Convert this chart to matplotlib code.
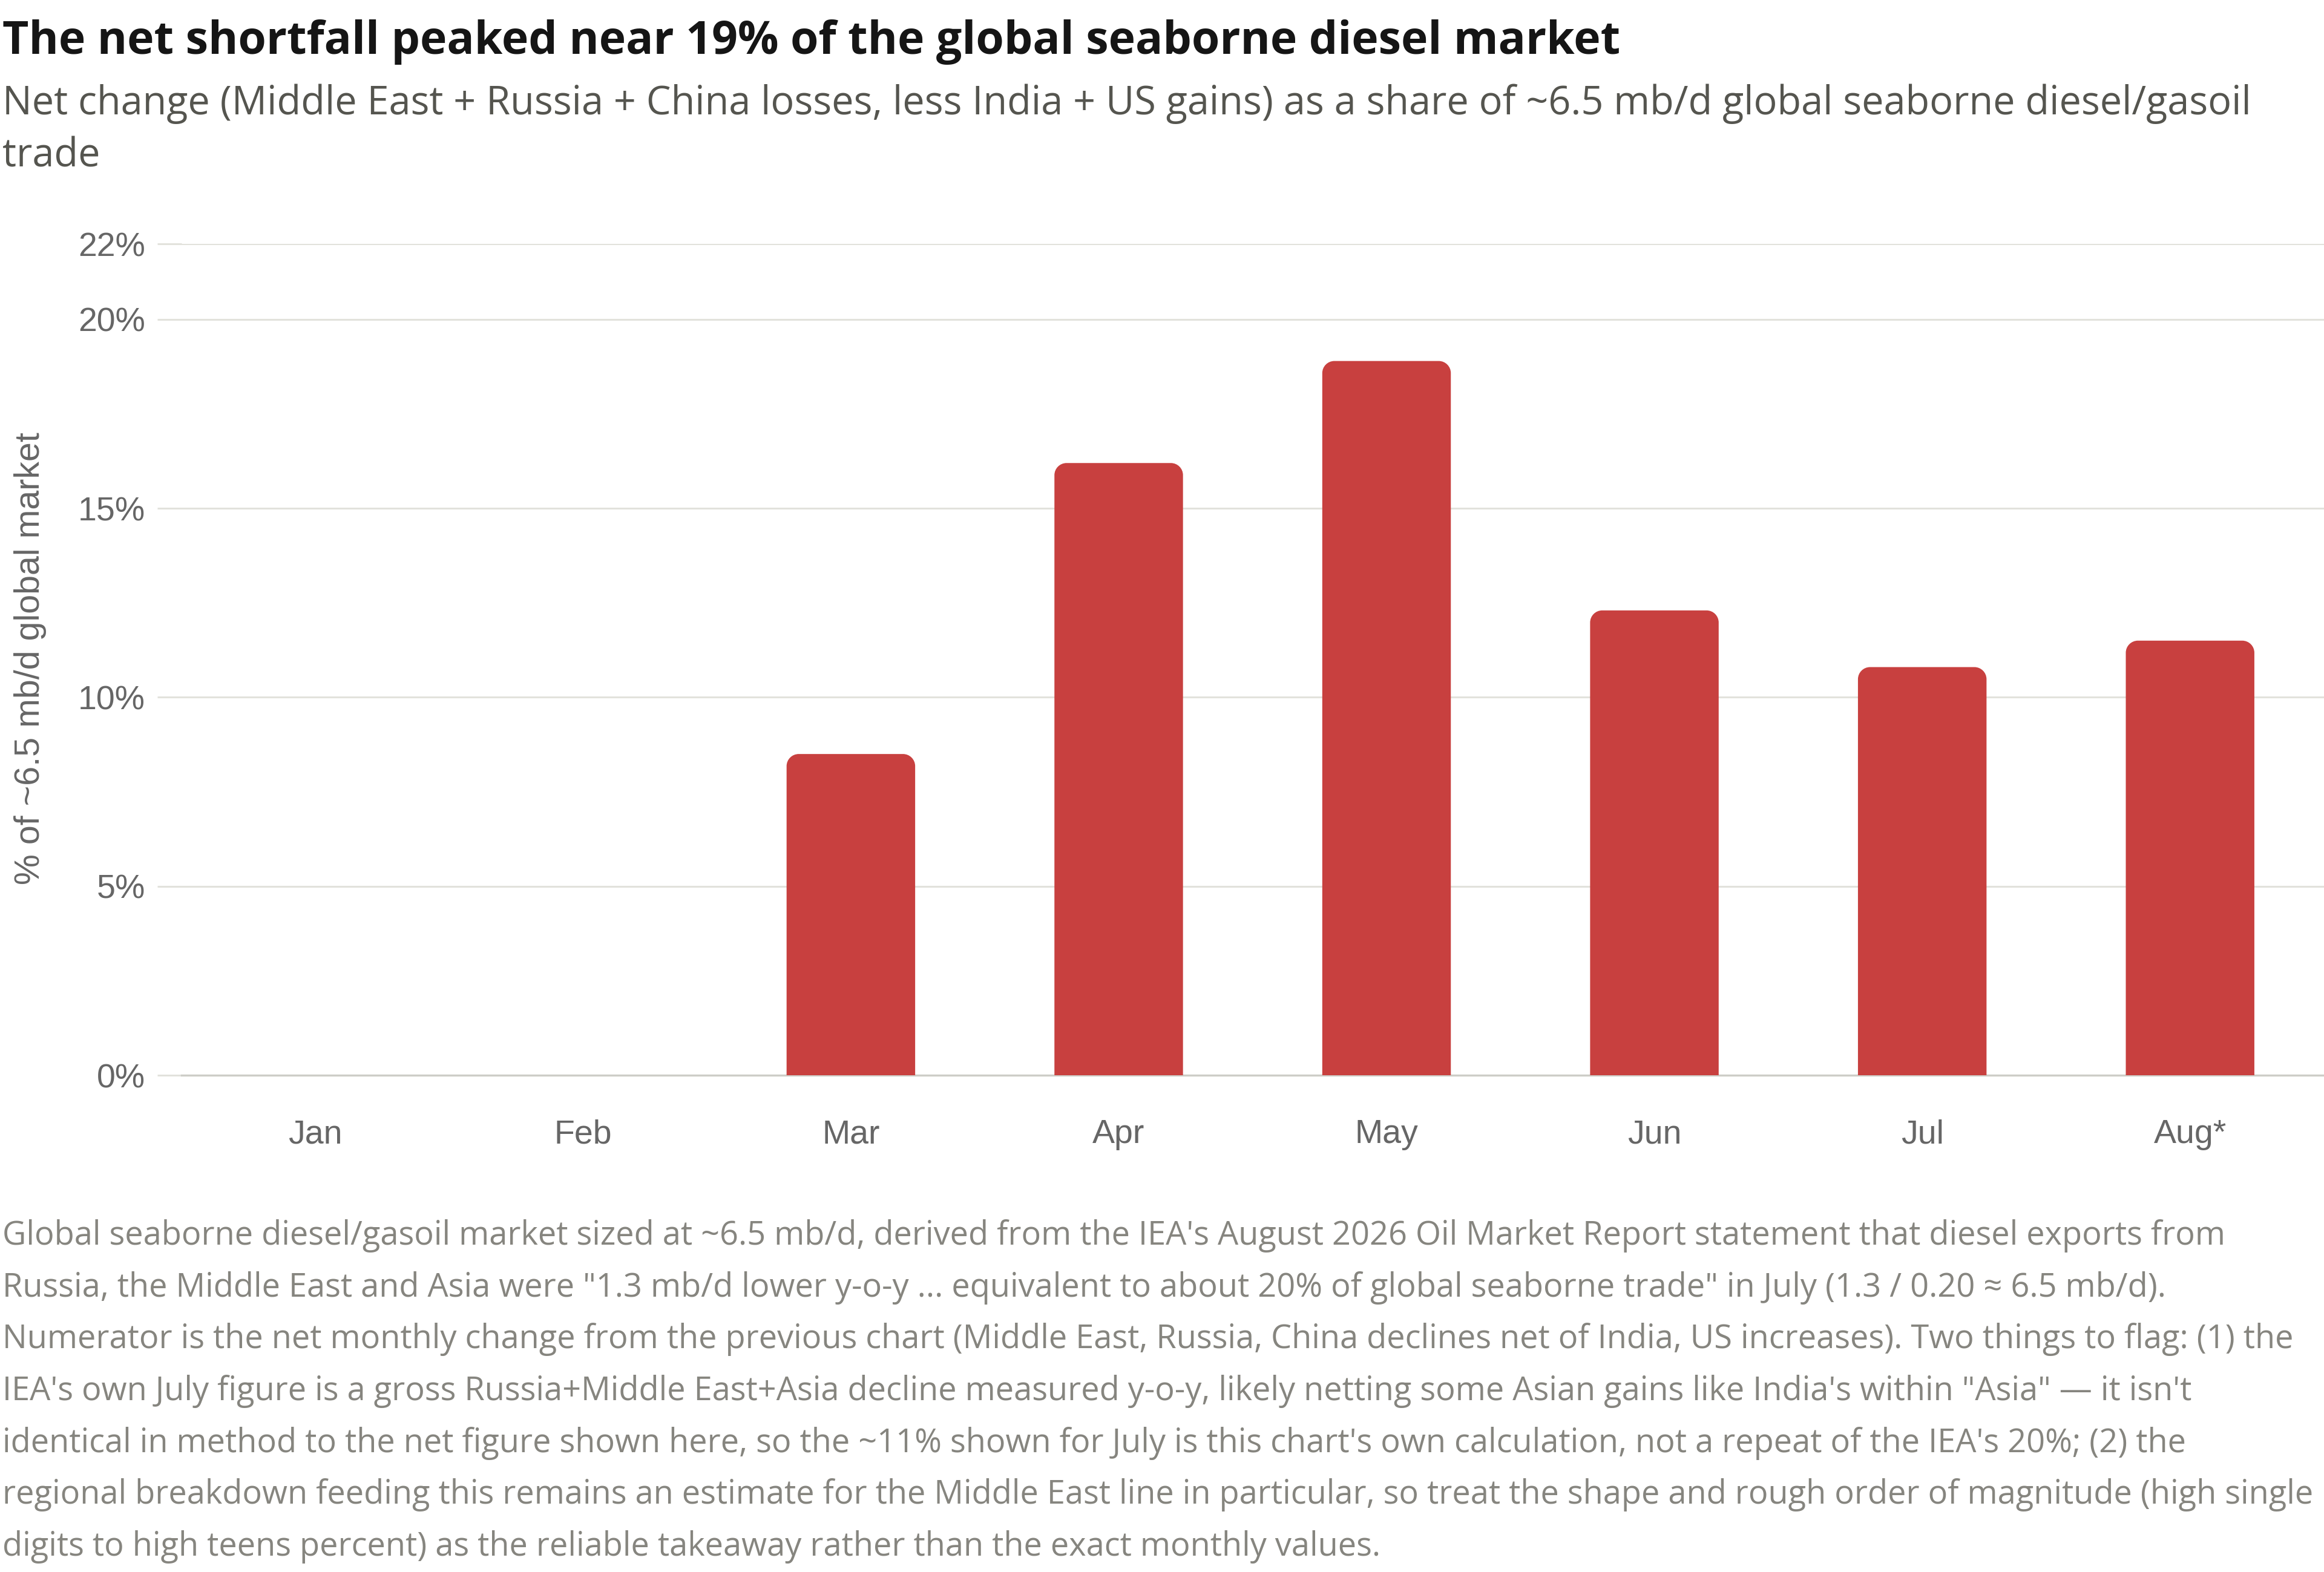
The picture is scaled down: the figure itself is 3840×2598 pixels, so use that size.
import matplotlib
matplotlib.use("Agg")
import matplotlib.pyplot as plt
from matplotlib.path import Path
from matplotlib.patches import PathPatch
from matplotlib.ticker import FixedLocator, FuncFormatter

# ---------------- data ----------------
months = ["Jan", "Feb", "Mar", "Apr", "May", "Jun", "Jul", "Aug*"]
net_share_pct = [0, 0, 8.5, 16.2, 18.9, 12.3, 10.8, 11.5]
y_ticks = [0, 5, 10, 15, 20, 22]

title = "The net shortfall peaked near 19% of the global seaborne diesel market"
subtitle_lines = [
    "Net change (Middle East + Russia + China losses, less India + US gains) as a share of ~6.5 mb/d global seaborne diesel/gasoil",
    "trade",
]
y_label = "% of ~6.5 mb/d global market"
footnote_lines = [
    "Global seaborne diesel/gasoil market sized at ~6.5 mb/d, derived from the IEA's August 2026 Oil Market Report statement that diesel exports from",
    "Russia, the Middle East and Asia were \"1.3 mb/d lower y-o-y ... equivalent to about 20% of global seaborne trade\" in July (1.3 / 0.20 \u2248 6.5 mb/d).",
    "Numerator is the net monthly change from the previous chart (Middle East, Russia, China declines net of India, US increases). Two things to flag: (1) the",
    "IEA's own July figure is a gross Russia+Middle East+Asia decline measured y-o-y, likely netting some Asian gains like India's within \"Asia\" \u2014 it isn't",
    "identical in method to the net figure shown here, so the ~11% shown for July is this chart's own calculation, not a repeat of the IEA's 20%; (2) the",
    "regional breakdown feeding this remains an estimate for the Middle East line in particular, so treat the shape and rough order of magnitude (high single",
    "digits to high teens percent) as the reliable takeaway rather than the exact monthly values.",
]

# ---------------- style ----------------
W, H, DPI = 3840, 2598, 100
BAR_COLOR = "#C8403F"
GRID_COLOR = "#E2E2DC"
ZERO_COLOR = "#CDCDC7"
TICK_TEXT = "#666666"
TEXT_FONT = ["Open Sans", "DejaVu Sans"]
AXIS_FONT = ["Liberation Sans", "DejaVu Sans"]

fig = plt.figure(figsize=(W / DPI, H / DPI), dpi=DPI)
fig.patch.set_facecolor("white")

def fy(px):
    return 1 - px / H

ax = fig.add_axes([299.5 / W, fy(1777), 1 - 299.5 / W, (1777 - 403) / H])
ax.set_facecolor("white")

x = list(range(len(months)))
bars = ax.bar(x, net_share_pct, width=0.48, color=BAR_COLOR, zorder=3)

ax.set_xlim(-0.5, len(months) - 0.5)
ax.set_ylim(y_ticks[0], y_ticks[-1])

# rounded top corners for the bars
ax_w_px = W * (1 - 299.5 / W)
ax_h_px = 1777 - 403
r_px = 20
rx = r_px * (len(months)) / ax_w_px
ry = r_px * (y_ticks[-1] - y_ticks[0]) / ax_h_px
k = 0.5523
for rect in bars:
    h = rect.get_height()
    if h <= 0:
        rect.set_visible(False)
        continue
    x0 = rect.get_x()
    w = rect.get_width()
    y0 = rect.get_y()
    x1 = x0 + w
    y1 = y0 + h
    verts = [
        (x0, y0), (x0, y1 - ry),
        (x0, y1 - ry + k * ry), (x0 + rx - k * rx, y1), (x0 + rx, y1),
        (x1 - rx, y1),
        (x1 - rx + k * rx, y1), (x1, y1 - ry + k * ry), (x1, y1 - ry),
        (x1, y0), (x0, y0),
    ]
    codes = [Path.MOVETO, Path.LINETO,
             Path.CURVE4, Path.CURVE4, Path.CURVE4,
             Path.LINETO,
             Path.CURVE4, Path.CURVE4, Path.CURVE4,
             Path.LINETO, Path.CLOSEPOLY]
    patch = PathPatch(Path(verts, codes), facecolor=BAR_COLOR, edgecolor="none", zorder=3)
    ax.add_patch(patch)
    rect.set_visible(False)

# axes styling
for s in ["top", "right", "left"]:
    ax.spines[s].set_visible(False)
ax.spines["bottom"].set_color(ZERO_COLOR)
ax.spines["bottom"].set_linewidth(2.4)
ax.spines["bottom"].set_zorder(2)

ax.yaxis.set_major_locator(FixedLocator(y_ticks))
ax.yaxis.set_major_formatter(FuncFormatter(lambda v, p: f"{v:g}%"))
ax.yaxis.grid(True, color=GRID_COLOR, linewidth=2.2, zorder=1)
ax.set_axisbelow(True)
ax.tick_params(axis="y", length=29, width=2.2, color=GRID_COLOR, pad=14,
               labelsize=40, labelcolor=TICK_TEXT)
ax.set_xticks(x)
ax.set_xticklabels(months)
ax.tick_params(axis="x", length=0, pad=52, labelsize=40, labelcolor=TICK_TEXT)
for lab in ax.get_xticklabels() + ax.get_yticklabels():
    lab.set_family(AXIS_FONT)

renderer = fig.canvas.get_renderer()

def fit(t, target_px):
    wpx = t.get_window_extent(renderer).width
    t.set_fontsize(t.get_fontsize() * target_px / wpx)

# y label
yl = fig.text(50 / W, fy(1088), y_label, rotation=90, ha="center", va="center",
              fontsize=38, color=TICK_TEXT, family=AXIS_FONT)
ext = yl.get_window_extent(renderer)
yl.set_fontsize(yl.get_fontsize() * 747 / ext.height)

# title
tt = fig.text(4 / W, fy(89), title, ha="left", va="baseline", fontsize=60,
              fontweight="bold", color="#151515", family=TEXT_FONT)
fit(tt, 2672)

# subtitle
st1 = fig.text(4 / W, fy(189), subtitle_lines[0], ha="left", va="baseline",
               fontsize=50, color="#55554F", family=TEXT_FONT)
fit(st1, 3713)
fig.text(4 / W, fy(275), subtitle_lines[1], ha="left", va="baseline",
         fontsize=st1.get_fontsize(), color="#55554F", family=TEXT_FONT)

# footnote
fn0 = fig.text(4 / W, fy(2057), footnote_lines[0], ha="left", va="baseline",
               fontsize=40, color="#86857F", family=TEXT_FONT)
fit(fn0, 3667)
fsize = fn0.get_fontsize()
for i, line in enumerate(footnote_lines[1:], start=1):
    fig.text(4 / W, fy(2057 + i * 85.7), line, ha="left", va="baseline",
             fontsize=fsize, color="#86857F", family=TEXT_FONT)

fig.savefig("out.png", dpi=DPI, facecolor="white")
